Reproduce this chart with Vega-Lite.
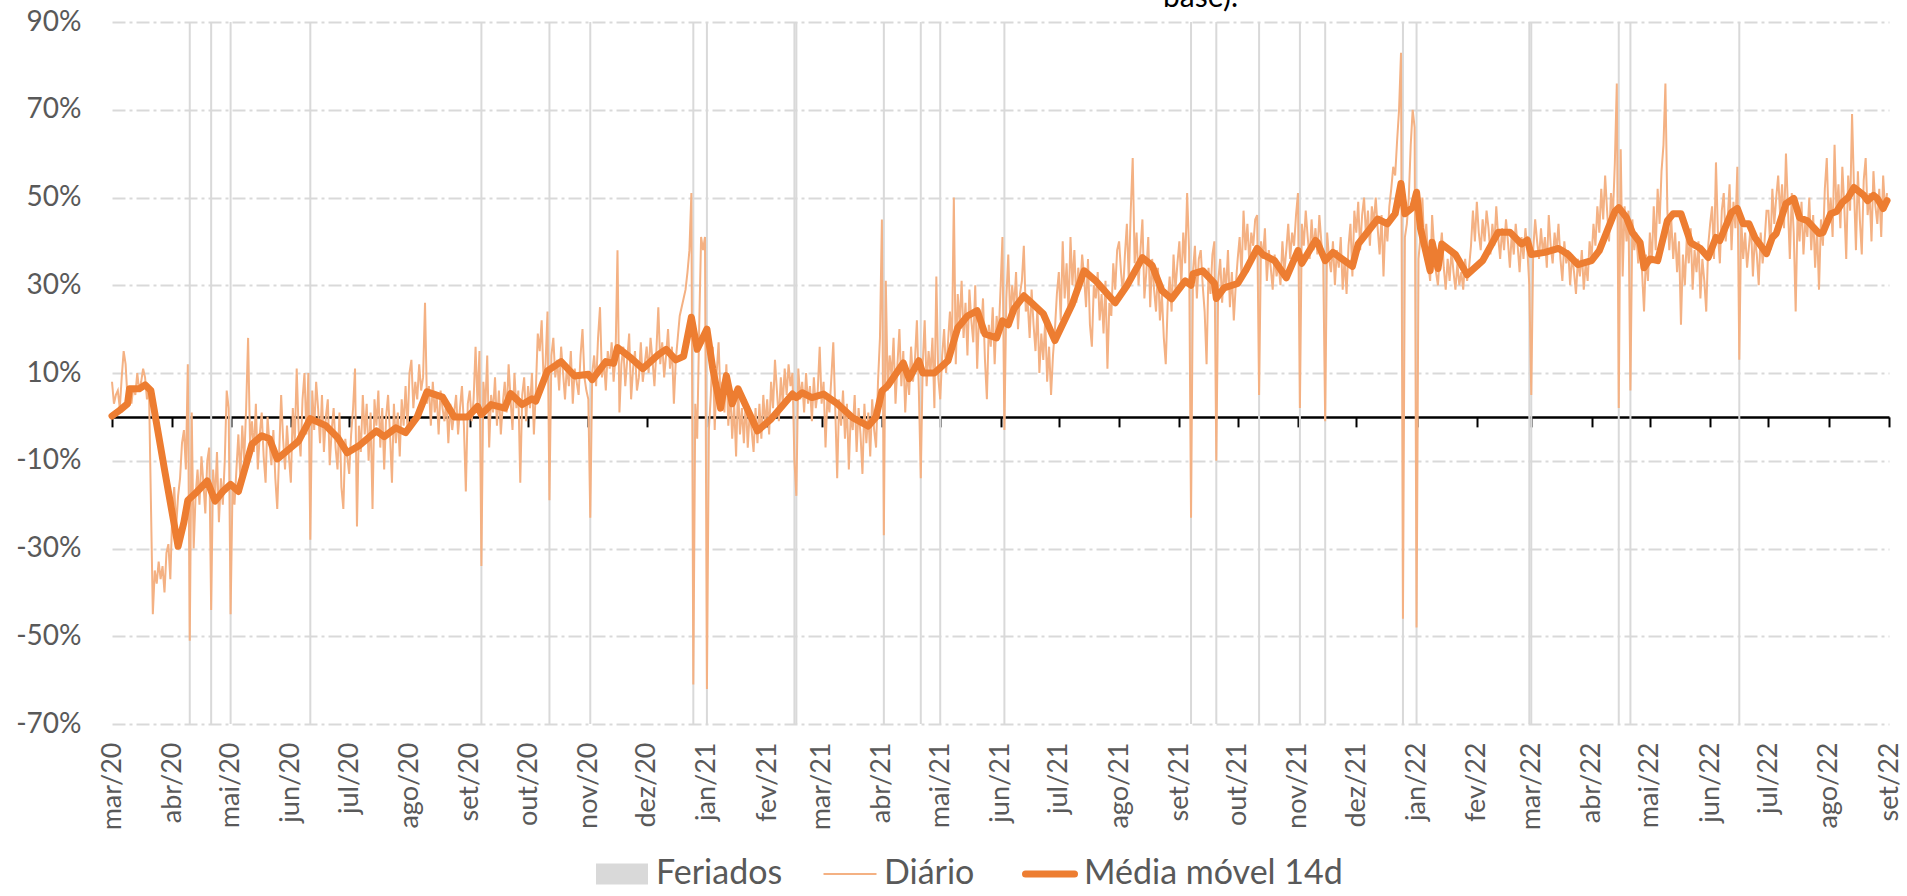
{
"$schema": "https://vega.github.io/schema/vega-lite/v6.json",
"width": 1777, "height": 702,
"autosize": {"type": "none"},
"padding": {"left": 112, "top": 22, "right": 18, "bottom": 172},
"background": "white",
"title": {"text": "base).", "font": "Lato", "fontSize": 30, "fontWeight": "normal", "color": "#000000", "anchor": "middle", "frame": "group", "dx": 200, "offset": -5, "baseline": "top"},
"config": {"view": {"stroke": null}, "font": "Lato"},
"datasets": {
"hol": [
{"d":"2020-04-10","s":"Feriados"},{"d":"2020-04-21","s":"Feriados"},{"d":"2020-05-01","s":"Feriados"},{"d":"2020-06-11","s":"Feriados"},{"d":"2020-09-07","s":"Feriados"},{"d":"2020-10-12","s":"Feriados"},{"d":"2020-11-02","s":"Feriados"},{"d":"2020-12-25","s":"Feriados"},{"d":"2021-01-01","s":"Feriados"},{"d":"2021-02-15","s":"Feriados"},{"d":"2021-02-16","s":"Feriados"},{"d":"2021-04-02","s":"Feriados"},{"d":"2021-04-21","s":"Feriados"},{"d":"2021-05-01","s":"Feriados"},{"d":"2021-06-03","s":"Feriados"},{"d":"2021-09-07","s":"Feriados"},{"d":"2021-09-20","s":"Feriados"},{"d":"2021-10-12","s":"Feriados"},{"d":"2021-11-02","s":"Feriados"},{"d":"2021-11-15","s":"Feriados"},{"d":"2021-12-25","s":"Feriados"},{"d":"2022-01-01","s":"Feriados"},{"d":"2022-02-28","s":"Feriados"},{"d":"2022-03-01","s":"Feriados"},{"d":"2022-04-15","s":"Feriados"},{"d":"2022-04-21","s":"Feriados"},{"d":"2022-06-16","s":"Feriados"}
],
"ma": [
{"d":"2020-03-01","m":0.2},{"d":"2020-03-05","m":1.5},{"d":"2020-03-09","m":3},{"d":"2020-03-10","m":6.4},{"d":"2020-03-15","m":6.4},{"d":"2020-03-18","m":7.3},{"d":"2020-03-21","m":6},{"d":"2020-03-28","m":-12},{"d":"2020-04-04","m":-29.5},{"d":"2020-04-07","m":-24},{"d":"2020-04-09","m":-19},{"d":"2020-04-13","m":-17.4},{"d":"2020-04-19","m":-14.6},{"d":"2020-04-23","m":-19.2},{"d":"2020-04-27","m":-17},{"d":"2020-05-01","m":-15.4},{"d":"2020-05-05","m":-17},{"d":"2020-05-12","m":-6.2},{"d":"2020-05-17","m":-4.3},{"d":"2020-05-21","m":-5},{"d":"2020-05-25","m":-9.6},{"d":"2020-06-01","m":-7},{"d":"2020-06-05","m":-5.5},{"d":"2020-06-11","m":-0.4},{"d":"2020-06-19","m":-2},{"d":"2020-06-25","m":-4.7},{"d":"2020-06-30","m":-8.2},{"d":"2020-07-06","m":-6.6},{"d":"2020-07-15","m":-3.2},{"d":"2020-07-19","m":-4.5},{"d":"2020-07-25","m":-2.5},{"d":"2020-07-30","m":-3.6},{"d":"2020-08-05","m":0},{"d":"2020-08-10","m":5.7},{"d":"2020-08-18","m":4.5},{"d":"2020-08-24","m":0},{"d":"2020-08-31","m":0},{"d":"2020-09-05","m":2.4},{"d":"2020-09-07","m":0.5},{"d":"2020-09-12","m":2.8},{"d":"2020-09-19","m":2},{"d":"2020-09-22","m":5.3},{"d":"2020-09-28","m":2.8},{"d":"2020-10-03","m":4.1},{"d":"2020-10-05","m":3.6},{"d":"2020-10-11","m":10.5},{"d":"2020-10-18","m":12.6},{"d":"2020-10-25","m":9.3},{"d":"2020-11-01","m":9.7},{"d":"2020-11-03","m":8.5},{"d":"2020-11-10","m":12.6},{"d":"2020-11-14","m":12.2},{"d":"2020-11-16","m":15.8},{"d":"2020-11-23","m":13.4},{"d":"2020-11-29","m":11},{"d":"2020-12-07","m":14.2},{"d":"2020-12-11","m":15.4},{"d":"2020-12-16","m":13},{"d":"2020-12-20","m":13.8},{"d":"2020-12-24","m":22.7},{"d":"2020-12-27","m":15.4},{"d":"2021-01-01","m":20},{"d":"2021-01-04","m":11},{"d":"2021-01-08","m":2},{"d":"2021-01-11","m":9.4},{"d":"2021-01-14","m":3},{"d":"2021-01-17","m":6.4},{"d":"2021-01-27","m":-3.2},{"d":"2021-02-03","m":-0.5},{"d":"2021-02-14","m":5.2},{"d":"2021-02-16","m":4.4},{"d":"2021-02-19","m":5.5},{"d":"2021-02-24","m":4.4},{"d":"2021-03-02","m":5.2},{"d":"2021-03-09","m":3},{"d":"2021-03-17","m":-0.2},{"d":"2021-03-25","m":-2.1},{"d":"2021-03-29","m":0},{"d":"2021-04-01","m":5.9},{"d":"2021-04-04","m":7.1},{"d":"2021-04-12","m":12.3},{"d":"2021-04-15","m":8.7},{"d":"2021-04-20","m":12.8},{"d":"2021-04-22","m":10},{"d":"2021-04-28","m":10},{"d":"2021-05-05","m":12.8},{"d":"2021-05-10","m":20.3},{"d":"2021-05-15","m":23},{"d":"2021-05-20","m":24.2},{"d":"2021-05-24","m":18.9},{"d":"2021-05-30","m":18},{"d":"2021-06-02","m":21.9},{"d":"2021-06-05","m":21},{"d":"2021-06-08","m":24.7},{"d":"2021-06-13","m":27.6},{"d":"2021-06-17","m":26},{"d":"2021-06-23","m":23.5},{"d":"2021-06-29","m":17.4},{"d":"2021-07-08","m":25.8},{"d":"2021-07-14","m":33.3},{"d":"2021-07-20","m":31},{"d":"2021-07-30","m":26},{"d":"2021-08-05","m":29.9},{"d":"2021-08-13","m":36.3},{"d":"2021-08-18","m":34.5},{"d":"2021-08-23","m":28.8},{"d":"2021-08-28","m":26.9},{"d":"2021-09-04","m":31},{"d":"2021-09-07","m":30},{"d":"2021-09-08","m":32.6},{"d":"2021-09-13","m":33.3},{"d":"2021-09-19","m":30.5},{"d":"2021-09-20","m":27},{"d":"2021-09-24","m":29.4},{"d":"2021-10-01","m":30.4},{"d":"2021-10-05","m":33.3},{"d":"2021-10-11","m":38.4},{"d":"2021-10-14","m":37},{"d":"2021-10-20","m":35.6},{"d":"2021-10-26","m":31.7},{"d":"2021-11-01","m":37.9},{"d":"2021-11-03","m":35},{"d":"2021-11-10","m":40.2},{"d":"2021-11-11","m":39.8},{"d":"2021-11-15","m":35.6},{"d":"2021-11-19","m":37.5},{"d":"2021-11-29","m":34.3},{"d":"2021-12-02","m":39.4},{"d":"2021-12-12","m":45.1},{"d":"2021-12-17","m":44},{"d":"2021-12-21","m":46.3},{"d":"2021-12-24","m":53.2},{"d":"2021-12-26","m":46.3},{"d":"2021-12-30","m":47.7},{"d":"2022-01-01","m":51.2},{"d":"2022-01-03","m":43},{"d":"2022-01-08","m":33.3},{"d":"2022-01-09","m":39.8},{"d":"2022-01-12","m":33.8},{"d":"2022-01-14","m":39.4},{"d":"2022-01-21","m":37},{"d":"2022-01-27","m":32.4},{"d":"2022-02-04","m":35.6},{"d":"2022-02-12","m":42.1},{"d":"2022-02-18","m":42.1},{"d":"2022-02-24","m":39.4},{"d":"2022-02-27","m":40.3},{"d":"2022-03-01","m":37},{"d":"2022-03-08","m":37.5},{"d":"2022-03-15","m":38.4},{"d":"2022-03-20","m":37},{"d":"2022-03-25","m":34.7},{"d":"2022-04-01","m":35.6},{"d":"2022-04-05","m":37.9},{"d":"2022-04-13","m":46.8},{"d":"2022-04-15","m":47.7},{"d":"2022-04-19","m":45.4},{"d":"2022-04-22","m":42},{"d":"2022-04-26","m":39.7},{"d":"2022-04-28","m":34},{"d":"2022-05-01","m":36},{"d":"2022-05-05","m":35.6},{"d":"2022-05-10","m":44.7},{"d":"2022-05-13","m":46.3},{"d":"2022-05-17","m":46.3},{"d":"2022-05-22","m":39.7},{"d":"2022-05-27","m":38.4},{"d":"2022-05-31","m":36.3},{"d":"2022-06-04","m":40.9},{"d":"2022-06-06","m":40.2},{"d":"2022-06-12","m":46.6},{"d":"2022-06-15","m":47.5},{"d":"2022-06-18","m":44},{"d":"2022-06-21","m":44},{"d":"2022-06-24","m":40.9},{"d":"2022-06-30","m":37.2},{"d":"2022-07-03","m":40.9},{"d":"2022-07-05","m":41.8},{"d":"2022-07-10","m":48.6},{"d":"2022-07-14","m":49.8},{"d":"2022-07-17","m":45.4},{"d":"2022-07-21","m":44.7},{"d":"2022-07-27","m":41.8},{"d":"2022-07-29","m":42},{"d":"2022-08-02","m":46.3},{"d":"2022-08-05","m":46.8},{"d":"2022-08-08","m":48.9},{"d":"2022-08-11","m":50},{"d":"2022-08-14","m":52.3},{"d":"2022-08-19","m":50.5},{"d":"2022-08-21","m":49.3},{"d":"2022-08-24","m":50.5},{"d":"2022-08-26","m":49.8},{"d":"2022-08-29","m":47.5},{"d":"2022-08-31","m":49.3}
],
"daily": [
{"d":"2020-03-01","v":8},{"d":"2020-03-02","v":3},{"d":"2020-03-03","v":5},{"d":"2020-03-04","v":6},{"d":"2020-03-05","v":2},{"d":"2020-03-06","v":9},{"d":"2020-03-07","v":15},{"d":"2020-03-08","v":12},{"d":"2020-03-09","v":4},{"d":"2020-03-10","v":6},{"d":"2020-03-11","v":3},{"d":"2020-03-12","v":7},{"d":"2020-03-13","v":5},{"d":"2020-03-14","v":10},{"d":"2020-03-15","v":6},{"d":"2020-03-16","v":8},{"d":"2020-03-17","v":11},{"d":"2020-03-18","v":9},{"d":"2020-03-19","v":4},{"d":"2020-03-20","v":7},{"d":"2020-03-21","v":-19},{"d":"2020-03-22","v":-45},{"d":"2020-03-23","v":-35},{"d":"2020-03-24","v":-38},{"d":"2020-03-25","v":-33},{"d":"2020-03-26","v":-37},{"d":"2020-03-27","v":-34},{"d":"2020-03-28","v":-40},{"d":"2020-03-29","v":-31},{"d":"2020-03-30","v":-29},{"d":"2020-03-31","v":-37},
{"d":"2020-04-01","v":-22},{"d":"2020-04-02","v":-16},{"d":"2020-04-03","v":-25},{"d":"2020-04-04","v":-18},{"d":"2020-04-05","v":-14},{"d":"2020-04-06","v":-6},{"d":"2020-04-07","v":-3},{"d":"2020-04-08","v":-12},{"d":"2020-04-09","v":12},{"d":"2020-04-10","v":-51},{"d":"2020-04-11","v":1},{"d":"2020-04-12","v":-30},{"d":"2020-04-13","v":-18},{"d":"2020-04-14","v":-12},{"d":"2020-04-15","v":-20},{"d":"2020-04-16","v":-9},{"d":"2020-04-17","v":-15},{"d":"2020-04-18","v":-22},{"d":"2020-04-19","v":-10},{"d":"2020-04-20","v":-7},{"d":"2020-04-21","v":-44},{"d":"2020-04-22","v":-12},{"d":"2020-04-23","v":-19},{"d":"2020-04-24","v":-8},{"d":"2020-04-25","v":-24},{"d":"2020-04-26","v":-14},{"d":"2020-04-27","v":-20},{"d":"2020-04-28","v":-10},{"d":"2020-04-29","v":6},{"d":"2020-04-30","v":2},
{"d":"2020-05-01","v":-45},{"d":"2020-05-02","v":-16},{"d":"2020-05-03","v":-20},{"d":"2020-05-04","v":-12},{"d":"2020-05-05","v":-4},{"d":"2020-05-06","v":-14},{"d":"2020-05-07","v":-2},{"d":"2020-05-08","v":-10},{"d":"2020-05-09","v":2},{"d":"2020-05-10","v":18},{"d":"2020-05-11","v":-6},{"d":"2020-05-12","v":-1},{"d":"2020-05-13","v":-8},{"d":"2020-05-14","v":3},{"d":"2020-05-15","v":-12},{"d":"2020-05-16","v":-4},{"d":"2020-05-17","v":1},{"d":"2020-05-18","v":-9},{"d":"2020-05-19","v":-15},{"d":"2020-05-20","v":0},{"d":"2020-05-21","v":-6},{"d":"2020-05-22","v":-11},{"d":"2020-05-23","v":-3},{"d":"2020-05-24","v":-14},{"d":"2020-05-25","v":-21},{"d":"2020-05-26","v":-8},{"d":"2020-05-27","v":5},{"d":"2020-05-28","v":-5},{"d":"2020-05-29","v":-12},{"d":"2020-05-30","v":-2},{"d":"2020-05-31","v":-9},
{"d":"2020-06-01","v":-15},{"d":"2020-06-02","v":2},{"d":"2020-06-03","v":-6},{"d":"2020-06-04","v":11},{"d":"2020-06-05","v":-3},{"d":"2020-06-06","v":-9},{"d":"2020-06-07","v":4},{"d":"2020-06-08","v":10},{"d":"2020-06-09","v":-4},{"d":"2020-06-10","v":10},{"d":"2020-06-11","v":-28},{"d":"2020-06-12","v":6},{"d":"2020-06-13","v":-3},{"d":"2020-06-14","v":8},{"d":"2020-06-15","v":2},{"d":"2020-06-16","v":-6},{"d":"2020-06-17","v":5},{"d":"2020-06-18","v":-8},{"d":"2020-06-19","v":0},{"d":"2020-06-20","v":4},{"d":"2020-06-21","v":-11},{"d":"2020-06-22","v":-3},{"d":"2020-06-23","v":2},{"d":"2020-06-24","v":-7},{"d":"2020-06-25","v":-12},{"d":"2020-06-26","v":1},{"d":"2020-06-27","v":-16},{"d":"2020-06-28","v":-21},{"d":"2020-06-29","v":-5},{"d":"2020-06-30","v":-9},
{"d":"2020-07-01","v":-13},{"d":"2020-07-02","v":-4},{"d":"2020-07-03","v":2},{"d":"2020-07-04","v":11},{"d":"2020-07-05","v":-25},{"d":"2020-07-06","v":-2},{"d":"2020-07-07","v":-8},{"d":"2020-07-08","v":5},{"d":"2020-07-09","v":-4},{"d":"2020-07-10","v":3},{"d":"2020-07-11","v":-10},{"d":"2020-07-12","v":1},{"d":"2020-07-13","v":-21},{"d":"2020-07-14","v":4},{"d":"2020-07-15","v":-2},{"d":"2020-07-16","v":6},{"d":"2020-07-17","v":-7},{"d":"2020-07-18","v":2},{"d":"2020-07-19","v":-12},{"d":"2020-07-20","v":0},{"d":"2020-07-21","v":5},{"d":"2020-07-22","v":-4},{"d":"2020-07-23","v":-15},{"d":"2020-07-24","v":3},{"d":"2020-07-25","v":-6},{"d":"2020-07-26","v":1},{"d":"2020-07-27","v":-9},{"d":"2020-07-28","v":4},{"d":"2020-07-29","v":-2},{"d":"2020-07-30","v":7},{"d":"2020-07-31","v":-3},
{"d":"2020-08-01","v":10},{"d":"2020-08-02","v":13},{"d":"2020-08-03","v":2},{"d":"2020-08-04","v":8},{"d":"2020-08-05","v":4},{"d":"2020-08-06","v":12},{"d":"2020-08-07","v":6},{"d":"2020-08-08","v":9},{"d":"2020-08-09","v":26},{"d":"2020-08-10","v":3},{"d":"2020-08-11","v":7},{"d":"2020-08-12","v":-2},{"d":"2020-08-13","v":8},{"d":"2020-08-14","v":1},{"d":"2020-08-15","v":5},{"d":"2020-08-16","v":-4},{"d":"2020-08-17","v":6},{"d":"2020-08-18","v":2},{"d":"2020-08-19","v":-1},{"d":"2020-08-20","v":4},{"d":"2020-08-21","v":-6},{"d":"2020-08-22","v":3},{"d":"2020-08-23","v":-3},{"d":"2020-08-24","v":1},{"d":"2020-08-25","v":5},{"d":"2020-08-26","v":-4},{"d":"2020-08-27","v":2},{"d":"2020-08-28","v":7},{"d":"2020-08-29","v":-2},{"d":"2020-08-30","v":-17},{"d":"2020-08-31","v":3},
{"d":"2020-09-01","v":6},{"d":"2020-09-02","v":-1},{"d":"2020-09-03","v":4},{"d":"2020-09-04","v":16},{"d":"2020-09-05","v":3},{"d":"2020-09-06","v":15},{"d":"2020-09-07","v":-34},{"d":"2020-09-08","v":8},{"d":"2020-09-09","v":2},{"d":"2020-09-10","v":14},{"d":"2020-09-11","v":-7},{"d":"2020-09-12","v":5},{"d":"2020-09-13","v":1},{"d":"2020-09-14","v":9},{"d":"2020-09-15","v":-2},{"d":"2020-09-16","v":6},{"d":"2020-09-17","v":-4},{"d":"2020-09-18","v":3},{"d":"2020-09-19","v":8},{"d":"2020-09-20","v":1},{"d":"2020-09-21","v":12},{"d":"2020-09-22","v":4},{"d":"2020-09-23","v":-3},{"d":"2020-09-24","v":10},{"d":"2020-09-25","v":2},{"d":"2020-09-26","v":6},{"d":"2020-09-27","v":-15},{"d":"2020-09-28","v":5},{"d":"2020-09-29","v":9},{"d":"2020-09-30","v":-1},
{"d":"2020-10-01","v":7},{"d":"2020-10-02","v":2},{"d":"2020-10-03","v":10},{"d":"2020-10-04","v":-4},{"d":"2020-10-05","v":6},{"d":"2020-10-06","v":19},{"d":"2020-10-07","v":15},{"d":"2020-10-08","v":22},{"d":"2020-10-09","v":8},{"d":"2020-10-10","v":12},{"d":"2020-10-11","v":24},{"d":"2020-10-12","v":-19},{"d":"2020-10-13","v":14},{"d":"2020-10-14","v":18},{"d":"2020-10-15","v":9},{"d":"2020-10-16","v":13},{"d":"2020-10-17","v":6},{"d":"2020-10-18","v":16},{"d":"2020-10-19","v":10},{"d":"2020-10-20","v":4},{"d":"2020-10-21","v":12},{"d":"2020-10-22","v":7},{"d":"2020-10-23","v":15},{"d":"2020-10-24","v":3},{"d":"2020-10-25","v":11},{"d":"2020-10-26","v":8},{"d":"2020-10-27","v":5},{"d":"2020-10-28","v":14},{"d":"2020-10-29","v":20},{"d":"2020-10-30","v":9},{"d":"2020-10-31","v":6},
{"d":"2020-11-01","v":4},{"d":"2020-11-02","v":-23},{"d":"2020-11-03","v":10},{"d":"2020-11-04","v":14},{"d":"2020-11-05","v":7},{"d":"2020-11-06","v":18},{"d":"2020-11-07","v":25},{"d":"2020-11-08","v":9},{"d":"2020-11-09","v":13},{"d":"2020-11-10","v":6},{"d":"2020-11-11","v":15},{"d":"2020-11-12","v":11},{"d":"2020-11-13","v":17},{"d":"2020-11-14","v":8},{"d":"2020-11-15","v":14},{"d":"2020-11-16","v":38},{"d":"2020-11-17","v":1},{"d":"2020-11-18","v":12},{"d":"2020-11-19","v":16},{"d":"2020-11-20","v":7},{"d":"2020-11-21","v":13},{"d":"2020-11-22","v":19},{"d":"2020-11-23","v":4},{"d":"2020-11-24","v":11},{"d":"2020-11-25","v":15},{"d":"2020-11-26","v":6},{"d":"2020-11-27","v":9},{"d":"2020-11-28","v":17},{"d":"2020-11-29","v":8},{"d":"2020-11-30","v":12},
{"d":"2020-12-01","v":16},{"d":"2020-12-02","v":10},{"d":"2020-12-03","v":18},{"d":"2020-12-04","v":13},{"d":"2020-12-05","v":7},{"d":"2020-12-06","v":15},{"d":"2020-12-07","v":25},{"d":"2020-12-08","v":12},{"d":"2020-12-09","v":17},{"d":"2020-12-10","v":9},{"d":"2020-12-11","v":14},{"d":"2020-12-12","v":20},{"d":"2020-12-13","v":11},{"d":"2020-12-14","v":16},{"d":"2020-12-15","v":3},{"d":"2020-12-16","v":13},{"d":"2020-12-17","v":18},{"d":"2020-12-18","v":23},{"d":"2020-12-19","v":25},{"d":"2020-12-20","v":27},{"d":"2020-12-21","v":29},{"d":"2020-12-22","v":33},{"d":"2020-12-23","v":38},{"d":"2020-12-24","v":51},{"d":"2020-12-25","v":-61},{"d":"2020-12-26","v":3},{"d":"2020-12-27","v":-5},{"d":"2020-12-28","v":20},{"d":"2020-12-29","v":41},{"d":"2020-12-30","v":38},{"d":"2020-12-31","v":41},
{"d":"2021-01-01","v":-62},{"d":"2021-01-02","v":-3},{"d":"2021-01-03","v":5},{"d":"2021-01-04","v":16},{"d":"2021-01-05","v":-3},{"d":"2021-01-06","v":10},{"d":"2021-01-07","v":17},{"d":"2021-01-08","v":4},{"d":"2021-01-09","v":8},{"d":"2021-01-10","v":1},{"d":"2021-01-11","v":12},{"d":"2021-01-12","v":-2},{"d":"2021-01-13","v":6},{"d":"2021-01-14","v":-5},{"d":"2021-01-15","v":3},{"d":"2021-01-16","v":-9},{"d":"2021-01-17","v":7},{"d":"2021-01-18","v":-4},{"d":"2021-01-19","v":2},{"d":"2021-01-20","v":-6},{"d":"2021-01-21","v":4},{"d":"2021-01-22","v":-7},{"d":"2021-01-23","v":1},{"d":"2021-01-24","v":-3},{"d":"2021-01-25","v":-8},{"d":"2021-01-26","v":2},{"d":"2021-01-27","v":-6},{"d":"2021-01-28","v":3},{"d":"2021-01-29","v":-5},{"d":"2021-01-30","v":5},{"d":"2021-01-31","v":-2},
{"d":"2021-02-01","v":4},{"d":"2021-02-02","v":-4},{"d":"2021-02-03","v":8},{"d":"2021-02-04","v":2},{"d":"2021-02-05","v":13},{"d":"2021-02-06","v":6},{"d":"2021-02-07","v":-1},{"d":"2021-02-08","v":9},{"d":"2021-02-09","v":3},{"d":"2021-02-10","v":11},{"d":"2021-02-11","v":5},{"d":"2021-02-12","v":12},{"d":"2021-02-13","v":7},{"d":"2021-02-14","v":10},{"d":"2021-02-15","v":-10},{"d":"2021-02-16","v":-18},{"d":"2021-02-17","v":11},{"d":"2021-02-18","v":4},{"d":"2021-02-19","v":8},{"d":"2021-02-20","v":1},{"d":"2021-02-21","v":10},{"d":"2021-02-22","v":3},{"d":"2021-02-23","v":7},{"d":"2021-02-24","v":-1},{"d":"2021-02-25","v":9},{"d":"2021-02-26","v":2},{"d":"2021-02-27","v":6},{"d":"2021-02-28","v":16},
{"d":"2021-03-01","v":3},{"d":"2021-03-02","v":8},{"d":"2021-03-03","v":-7},{"d":"2021-03-04","v":5},{"d":"2021-03-05","v":1},{"d":"2021-03-06","v":9},{"d":"2021-03-07","v":17},{"d":"2021-03-08","v":2},{"d":"2021-03-09","v":-14},{"d":"2021-03-10","v":4},{"d":"2021-03-11","v":-2},{"d":"2021-03-12","v":6},{"d":"2021-03-13","v":-5},{"d":"2021-03-14","v":3},{"d":"2021-03-15","v":-12},{"d":"2021-03-16","v":1},{"d":"2021-03-17","v":-3},{"d":"2021-03-18","v":5},{"d":"2021-03-19","v":-8},{"d":"2021-03-20","v":2},{"d":"2021-03-21","v":-4},{"d":"2021-03-22","v":-13},{"d":"2021-03-23","v":3},{"d":"2021-03-24","v":-6},{"d":"2021-03-25","v":1},{"d":"2021-03-26","v":-9},{"d":"2021-03-27","v":4},{"d":"2021-03-28","v":-3},{"d":"2021-03-29","v":-7},{"d":"2021-03-30","v":8},{"d":"2021-03-31","v":18},
{"d":"2021-04-01","v":45},{"d":"2021-04-02","v":-27},{"d":"2021-04-03","v":31},{"d":"2021-04-04","v":6},{"d":"2021-04-05","v":14},{"d":"2021-04-06","v":9},{"d":"2021-04-07","v":18},{"d":"2021-04-08","v":3},{"d":"2021-04-09","v":12},{"d":"2021-04-10","v":20},{"d":"2021-04-11","v":7},{"d":"2021-04-12","v":15},{"d":"2021-04-13","v":1},{"d":"2021-04-14","v":11},{"d":"2021-04-15","v":5},{"d":"2021-04-16","v":16},{"d":"2021-04-17","v":8},{"d":"2021-04-18","v":13},{"d":"2021-04-19","v":22},{"d":"2021-04-20","v":6},{"d":"2021-04-21","v":-14},{"d":"2021-04-22","v":12},{"d":"2021-04-23","v":22},{"d":"2021-04-24","v":7},{"d":"2021-04-25","v":15},{"d":"2021-04-26","v":10},{"d":"2021-04-27","v":18},{"d":"2021-04-28","v":2},{"d":"2021-04-29","v":32},{"d":"2021-04-30","v":9},
{"d":"2021-05-01","v":4},{"d":"2021-05-02","v":14},{"d":"2021-05-03","v":20},{"d":"2021-05-04","v":10},{"d":"2021-05-05","v":17},{"d":"2021-05-06","v":24},{"d":"2021-05-07","v":15},{"d":"2021-05-08","v":50},{"d":"2021-05-09","v":12},{"d":"2021-05-10","v":28},{"d":"2021-05-11","v":21},{"d":"2021-05-12","v":31},{"d":"2021-05-13","v":18},{"d":"2021-05-14","v":26},{"d":"2021-05-15","v":14},{"d":"2021-05-16","v":29},{"d":"2021-05-17","v":22},{"d":"2021-05-18","v":17},{"d":"2021-05-19","v":30},{"d":"2021-05-20","v":11},{"d":"2021-05-21","v":24},{"d":"2021-05-22","v":19},{"d":"2021-05-23","v":27},{"d":"2021-05-24","v":13},{"d":"2021-05-25","v":4},{"d":"2021-05-26","v":21},{"d":"2021-05-27","v":16},{"d":"2021-05-28","v":25},{"d":"2021-05-29","v":12},{"d":"2021-05-30","v":23},{"d":"2021-05-31","v":18},
{"d":"2021-06-01","v":29},{"d":"2021-06-02","v":41},{"d":"2021-06-03","v":-3},{"d":"2021-06-04","v":27},{"d":"2021-06-05","v":37},{"d":"2021-06-06","v":22},{"d":"2021-06-07","v":30},{"d":"2021-06-08","v":25},{"d":"2021-06-09","v":33},{"d":"2021-06-10","v":20},{"d":"2021-06-11","v":28},{"d":"2021-06-12","v":31},{"d":"2021-06-13","v":39},{"d":"2021-06-14","v":24},{"d":"2021-06-15","v":26},{"d":"2021-06-16","v":18},{"d":"2021-06-17","v":29},{"d":"2021-06-18","v":21},{"d":"2021-06-19","v":15},{"d":"2021-06-20","v":25},{"d":"2021-06-21","v":10},{"d":"2021-06-22","v":19},{"d":"2021-06-23","v":13},{"d":"2021-06-24","v":22},{"d":"2021-06-25","v":8},{"d":"2021-06-26","v":16},{"d":"2021-06-27","v":5},{"d":"2021-06-28","v":14},{"d":"2021-06-29","v":20},{"d":"2021-06-30","v":28},
{"d":"2021-07-01","v":33},{"d":"2021-07-02","v":22},{"d":"2021-07-03","v":40},{"d":"2021-07-04","v":27},{"d":"2021-07-05","v":35},{"d":"2021-07-06","v":24},{"d":"2021-07-07","v":41},{"d":"2021-07-08","v":30},{"d":"2021-07-09","v":38},{"d":"2021-07-10","v":26},{"d":"2021-07-11","v":34},{"d":"2021-07-12","v":29},{"d":"2021-07-13","v":37},{"d":"2021-07-14","v":32},{"d":"2021-07-15","v":25},{"d":"2021-07-16","v":36},{"d":"2021-07-17","v":21},{"d":"2021-07-18","v":16},{"d":"2021-07-19","v":30},{"d":"2021-07-20","v":27},{"d":"2021-07-21","v":33},{"d":"2021-07-22","v":22},{"d":"2021-07-23","v":28},{"d":"2021-07-24","v":19},{"d":"2021-07-25","v":31},{"d":"2021-07-26","v":11},{"d":"2021-07-27","v":26},{"d":"2021-07-28","v":23},{"d":"2021-07-29","v":35},{"d":"2021-07-30","v":29},{"d":"2021-07-31","v":38},
{"d":"2021-08-01","v":40},{"d":"2021-08-02","v":33},{"d":"2021-08-03","v":28},{"d":"2021-08-04","v":37},{"d":"2021-08-05","v":44},{"d":"2021-08-06","v":31},{"d":"2021-08-07","v":47},{"d":"2021-08-08","v":59},{"d":"2021-08-09","v":35},{"d":"2021-08-10","v":42},{"d":"2021-08-11","v":30},{"d":"2021-08-12","v":38},{"d":"2021-08-13","v":45},{"d":"2021-08-14","v":27},{"d":"2021-08-15","v":33},{"d":"2021-08-16","v":41},{"d":"2021-08-17","v":25},{"d":"2021-08-18","v":36},{"d":"2021-08-19","v":29},{"d":"2021-08-20","v":24},{"d":"2021-08-21","v":34},{"d":"2021-08-22","v":22},{"d":"2021-08-23","v":28},{"d":"2021-08-24","v":18},{"d":"2021-08-25","v":12},{"d":"2021-08-26","v":26},{"d":"2021-08-27","v":32},{"d":"2021-08-28","v":24},{"d":"2021-08-29","v":37},{"d":"2021-08-30","v":29},{"d":"2021-08-31","v":35},
{"d":"2021-09-01","v":40},{"d":"2021-09-02","v":30},{"d":"2021-09-03","v":42},{"d":"2021-09-04","v":35},{"d":"2021-09-05","v":51},{"d":"2021-09-06","v":38},{"d":"2021-09-07","v":-23},{"d":"2021-09-08","v":33},{"d":"2021-09-09","v":39},{"d":"2021-09-10","v":27},{"d":"2021-09-11","v":36},{"d":"2021-09-12","v":38},{"d":"2021-09-13","v":30},{"d":"2021-09-14","v":24},{"d":"2021-09-15","v":12},{"d":"2021-09-16","v":34},{"d":"2021-09-17","v":28},{"d":"2021-09-18","v":37},{"d":"2021-09-19","v":40},{"d":"2021-09-20","v":-10},{"d":"2021-09-21","v":31},{"d":"2021-09-22","v":36},{"d":"2021-09-23","v":26},{"d":"2021-09-24","v":34},{"d":"2021-09-25","v":29},{"d":"2021-09-26","v":38},{"d":"2021-09-27","v":25},{"d":"2021-09-28","v":33},{"d":"2021-09-29","v":22},{"d":"2021-09-30","v":30},
{"d":"2021-10-01","v":36},{"d":"2021-10-02","v":41},{"d":"2021-10-03","v":32},{"d":"2021-10-04","v":47},{"d":"2021-10-05","v":38},{"d":"2021-10-06","v":44},{"d":"2021-10-07","v":35},{"d":"2021-10-08","v":42},{"d":"2021-10-09","v":39},{"d":"2021-10-10","v":45},{"d":"2021-10-11","v":46},{"d":"2021-10-12","v":5},{"d":"2021-10-13","v":40},{"d":"2021-10-14","v":36},{"d":"2021-10-15","v":43},{"d":"2021-10-16","v":31},{"d":"2021-10-17","v":38},{"d":"2021-10-18","v":34},{"d":"2021-10-19","v":29},{"d":"2021-10-20","v":37},{"d":"2021-10-21","v":32},{"d":"2021-10-22","v":35},{"d":"2021-10-23","v":30},{"d":"2021-10-24","v":40},{"d":"2021-10-25","v":33},{"d":"2021-10-26","v":38},{"d":"2021-10-27","v":44},{"d":"2021-10-28","v":36},{"d":"2021-10-29","v":42},{"d":"2021-10-30","v":39},{"d":"2021-10-31","v":46},
{"d":"2021-11-01","v":51},{"d":"2021-11-02","v":2},{"d":"2021-11-03","v":44},{"d":"2021-11-04","v":39},{"d":"2021-11-05","v":47},{"d":"2021-11-06","v":41},{"d":"2021-11-07","v":36},{"d":"2021-11-08","v":45},{"d":"2021-11-09","v":38},{"d":"2021-11-10","v":43},{"d":"2021-11-11","v":37},{"d":"2021-11-12","v":46},{"d":"2021-11-13","v":40},{"d":"2021-11-14","v":35},{"d":"2021-11-15","v":-1},{"d":"2021-11-16","v":42},{"d":"2021-11-17","v":36},{"d":"2021-11-18","v":33},{"d":"2021-11-19","v":40},{"d":"2021-11-20","v":30},{"d":"2021-11-21","v":38},{"d":"2021-11-22","v":34},{"d":"2021-11-23","v":41},{"d":"2021-11-24","v":29},{"d":"2021-11-25","v":36},{"d":"2021-11-26","v":28},{"d":"2021-11-27","v":39},{"d":"2021-11-28","v":44},{"d":"2021-11-29","v":32},{"d":"2021-11-30","v":47},
{"d":"2021-12-01","v":42},{"d":"2021-12-02","v":49},{"d":"2021-12-03","v":38},{"d":"2021-12-04","v":46},{"d":"2021-12-05","v":50},{"d":"2021-12-06","v":41},{"d":"2021-12-07","v":47},{"d":"2021-12-08","v":39},{"d":"2021-12-09","v":48},{"d":"2021-12-10","v":44},{"d":"2021-12-11","v":50},{"d":"2021-12-12","v":43},{"d":"2021-12-13","v":37},{"d":"2021-12-14","v":46},{"d":"2021-12-15","v":32},{"d":"2021-12-16","v":45},{"d":"2021-12-17","v":40},{"d":"2021-12-18","v":48},{"d":"2021-12-19","v":52},{"d":"2021-12-20","v":57},{"d":"2021-12-21","v":55},{"d":"2021-12-22","v":63},{"d":"2021-12-23","v":70},{"d":"2021-12-24","v":83},{"d":"2021-12-25","v":-46},{"d":"2021-12-26","v":41},{"d":"2021-12-27","v":44},{"d":"2021-12-28","v":50},{"d":"2021-12-29","v":62},{"d":"2021-12-30","v":70},{"d":"2021-12-31","v":66},
{"d":"2022-01-01","v":-48},{"d":"2022-01-02","v":36},{"d":"2022-01-03","v":41},{"d":"2022-01-04","v":50},{"d":"2022-01-05","v":38},{"d":"2022-01-06","v":44},{"d":"2022-01-07","v":35},{"d":"2022-01-08","v":31},{"d":"2022-01-09","v":46},{"d":"2022-01-10","v":39},{"d":"2022-01-11","v":33},{"d":"2022-01-12","v":30},{"d":"2022-01-13","v":37},{"d":"2022-01-14","v":42},{"d":"2022-01-15","v":34},{"d":"2022-01-16","v":29},{"d":"2022-01-17","v":36},{"d":"2022-01-18","v":31},{"d":"2022-01-19","v":38},{"d":"2022-01-20","v":33},{"d":"2022-01-21","v":29},{"d":"2022-01-22","v":35},{"d":"2022-01-23","v":30},{"d":"2022-01-24","v":33},{"d":"2022-01-25","v":29},{"d":"2022-01-26","v":36},{"d":"2022-01-27","v":31},{"d":"2022-01-28","v":34},{"d":"2022-01-29","v":39},{"d":"2022-01-30","v":47},{"d":"2022-01-31","v":40},
{"d":"2022-02-01","v":49},{"d":"2022-02-02","v":42},{"d":"2022-02-03","v":38},{"d":"2022-02-04","v":45},{"d":"2022-02-05","v":40},{"d":"2022-02-06","v":47},{"d":"2022-02-07","v":43},{"d":"2022-02-08","v":37},{"d":"2022-02-09","v":44},{"d":"2022-02-10","v":39},{"d":"2022-02-11","v":48},{"d":"2022-02-12","v":41},{"d":"2022-02-13","v":36},{"d":"2022-02-14","v":43},{"d":"2022-02-15","v":38},{"d":"2022-02-16","v":45},{"d":"2022-02-17","v":40},{"d":"2022-02-18","v":34},{"d":"2022-02-19","v":42},{"d":"2022-02-20","v":37},{"d":"2022-02-21","v":44},{"d":"2022-02-22","v":39},{"d":"2022-02-23","v":33},{"d":"2022-02-24","v":41},{"d":"2022-02-25","v":36},{"d":"2022-02-26","v":43},{"d":"2022-02-27","v":38},{"d":"2022-02-28","v":30},
{"d":"2022-03-01","v":5},{"d":"2022-03-02","v":38},{"d":"2022-03-03","v":45},{"d":"2022-03-04","v":40},{"d":"2022-03-05","v":36},{"d":"2022-03-06","v":43},{"d":"2022-03-07","v":37},{"d":"2022-03-08","v":41},{"d":"2022-03-09","v":34},{"d":"2022-03-10","v":46},{"d":"2022-03-11","v":39},{"d":"2022-03-12","v":35},{"d":"2022-03-13","v":42},{"d":"2022-03-14","v":38},{"d":"2022-03-15","v":44},{"d":"2022-03-16","v":36},{"d":"2022-03-17","v":31},{"d":"2022-03-18","v":40},{"d":"2022-03-19","v":35},{"d":"2022-03-20","v":38},{"d":"2022-03-21","v":30},{"d":"2022-03-22","v":37},{"d":"2022-03-23","v":33},{"d":"2022-03-24","v":28},{"d":"2022-03-25","v":36},{"d":"2022-03-26","v":32},{"d":"2022-03-27","v":38},{"d":"2022-03-28","v":29},{"d":"2022-03-29","v":35},{"d":"2022-03-30","v":31},{"d":"2022-03-31","v":40},
{"d":"2022-04-01","v":36},{"d":"2022-04-02","v":44},{"d":"2022-04-03","v":39},{"d":"2022-04-04","v":48},{"d":"2022-04-05","v":42},{"d":"2022-04-06","v":52},{"d":"2022-04-07","v":45},{"d":"2022-04-08","v":55},{"d":"2022-04-09","v":47},{"d":"2022-04-10","v":40},{"d":"2022-04-11","v":51},{"d":"2022-04-12","v":46},{"d":"2022-04-13","v":58},{"d":"2022-04-14","v":76},{"d":"2022-04-15","v":2},{"d":"2022-04-16","v":61},{"d":"2022-04-17","v":32},{"d":"2022-04-18","v":48},{"d":"2022-04-19","v":40},{"d":"2022-04-20","v":47},{"d":"2022-04-21","v":6},{"d":"2022-04-22","v":45},{"d":"2022-04-23","v":38},{"d":"2022-04-24","v":42},{"d":"2022-04-25","v":35},{"d":"2022-04-26","v":40},{"d":"2022-04-27","v":33},{"d":"2022-04-28","v":24},{"d":"2022-04-29","v":37},{"d":"2022-04-30","v":31},
{"d":"2022-05-01","v":42},{"d":"2022-05-02","v":35},{"d":"2022-05-03","v":48},{"d":"2022-05-04","v":38},{"d":"2022-05-05","v":52},{"d":"2022-05-06","v":44},{"d":"2022-05-07","v":56},{"d":"2022-05-08","v":62},{"d":"2022-05-09","v":76},{"d":"2022-05-10","v":47},{"d":"2022-05-11","v":38},{"d":"2022-05-12","v":45},{"d":"2022-05-13","v":36},{"d":"2022-05-14","v":42},{"d":"2022-05-15","v":33},{"d":"2022-05-16","v":40},{"d":"2022-05-17","v":21},{"d":"2022-05-18","v":37},{"d":"2022-05-19","v":30},{"d":"2022-05-20","v":41},{"d":"2022-05-21","v":35},{"d":"2022-05-22","v":43},{"d":"2022-05-23","v":29},{"d":"2022-05-24","v":38},{"d":"2022-05-25","v":33},{"d":"2022-05-26","v":40},{"d":"2022-05-27","v":27},{"d":"2022-05-28","v":36},{"d":"2022-05-29","v":31},{"d":"2022-05-30","v":24},{"d":"2022-05-31","v":39},
{"d":"2022-06-01","v":44},{"d":"2022-06-02","v":48},{"d":"2022-06-03","v":36},{"d":"2022-06-04","v":58},{"d":"2022-06-05","v":42},{"d":"2022-06-06","v":35},{"d":"2022-06-07","v":47},{"d":"2022-06-08","v":51},{"d":"2022-06-09","v":40},{"d":"2022-06-10","v":45},{"d":"2022-06-11","v":53},{"d":"2022-06-12","v":38},{"d":"2022-06-13","v":49},{"d":"2022-06-14","v":43},{"d":"2022-06-15","v":57},{"d":"2022-06-16","v":13},{"d":"2022-06-17","v":45},{"d":"2022-06-18","v":36},{"d":"2022-06-19","v":42},{"d":"2022-06-20","v":34},{"d":"2022-06-21","v":39},{"d":"2022-06-22","v":44},{"d":"2022-06-23","v":32},{"d":"2022-06-24","v":41},{"d":"2022-06-25","v":37},{"d":"2022-06-26","v":30},{"d":"2022-06-27","v":42},{"d":"2022-06-28","v":35},{"d":"2022-06-29","v":40},{"d":"2022-06-30","v":47},
{"d":"2022-07-01","v":47},{"d":"2022-07-02","v":38},{"d":"2022-07-03","v":52},{"d":"2022-07-04","v":44},{"d":"2022-07-05","v":50},{"d":"2022-07-06","v":55},{"d":"2022-07-07","v":46},{"d":"2022-07-08","v":53},{"d":"2022-07-09","v":43},{"d":"2022-07-10","v":60},{"d":"2022-07-11","v":48},{"d":"2022-07-12","v":36},{"d":"2022-07-13","v":51},{"d":"2022-07-14","v":42},{"d":"2022-07-15","v":24},{"d":"2022-07-16","v":47},{"d":"2022-07-17","v":40},{"d":"2022-07-18","v":49},{"d":"2022-07-19","v":37},{"d":"2022-07-20","v":45},{"d":"2022-07-21","v":41},{"d":"2022-07-22","v":50},{"d":"2022-07-23","v":38},{"d":"2022-07-24","v":46},{"d":"2022-07-25","v":34},{"d":"2022-07-26","v":43},{"d":"2022-07-27","v":29},{"d":"2022-07-28","v":45},{"d":"2022-07-29","v":39},{"d":"2022-07-30","v":52},{"d":"2022-07-31","v":59},
{"d":"2022-08-01","v":44},{"d":"2022-08-02","v":50},{"d":"2022-08-03","v":41},{"d":"2022-08-04","v":62},{"d":"2022-08-05","v":46},{"d":"2022-08-06","v":53},{"d":"2022-08-07","v":43},{"d":"2022-08-08","v":57},{"d":"2022-08-09","v":48},{"d":"2022-08-10","v":36},{"d":"2022-08-11","v":55},{"d":"2022-08-12","v":47},{"d":"2022-08-13","v":69},{"d":"2022-08-14","v":52},{"d":"2022-08-15","v":38},{"d":"2022-08-16","v":56},{"d":"2022-08-17","v":45},{"d":"2022-08-18","v":37},{"d":"2022-08-19","v":54},{"d":"2022-08-20","v":59},{"d":"2022-08-21","v":46},{"d":"2022-08-22","v":51},{"d":"2022-08-23","v":40},{"d":"2022-08-24","v":56},{"d":"2022-08-25","v":48},{"d":"2022-08-26","v":44},{"d":"2022-08-27","v":52},{"d":"2022-08-28","v":41},{"d":"2022-08-29","v":55},{"d":"2022-08-30","v":47},{"d":"2022-08-31","v":51}
]
},
"layer": [
{"data": {"name": "hol"},
 "mark": {"type": "rule", "strokeWidth": 2},
 "encoding": {
  "x": {"field": "d", "type": "temporal",
   "scale": {"type": "utc", "domain": [{"year": 2020, "month": 3, "date": 1, "utc": true}, {"year": 2022, "month": 9, "date": 1, "utc": true}]},
   "axis": {"orient": "bottom", "title": null, "tickCount": {"interval": "month", "step": 1},
    "labelExpr": "['jan','fev','mar','abr','mai','jun','jul','ago','set','out','nov','dez'][utcmonth(datum.value)] + '/' + utcFormat(datum.value, '%y')",
    "labelAngle": -90, "labelFont": "Lato", "labelFontSize": 27, "labelColor": "#595959", "labelPadding": 18,
    "domain": false, "ticks": false, "tickSize": 0, "grid": false, "labelOverlap": false, "labelBound": false, "labelFlush": false}},
  "color": {"field": "s", "type": "nominal",
   "scale": {"domain": ["Feriados", "Diário", "Média móvel 14d"], "range": ["#d9d9d9", "#f4b183", "#ed7d31"]},
   "legend": {"title": null, "orient": "none", "legendX": 484, "legendY": 835, "direction": "horizontal",
    "symbolType": "stroke", "symbolSize": 2704, "symbolOffset": 9, "labelFont": "Lato", "labelFontSize": 34, "labelColor": "#595959",
    "labelOffset": 17, "columnPadding": 36, "labelLimit": 0,
    "encode": {"symbols": {"update": {
      "shape": {"signal": "datum.value === 'Feriados' ? 'M-1,-0.4H1V0.4H-1Z' : 'stroke'"},
      "size": {"signal": "datum.value === 'Feriados' ? 2704 : (datum.value === 'Diário' ? 2809 : 2401)"},
      "fill": {"signal": "datum.value === 'Feriados' ? '#d9d9d9' : 'transparent'"},
      "strokeWidth": {"signal": "datum.value === 'Feriados' ? 0 : (datum.value === 'Diário' ? 2 : 7)"},
      "strokeCap": {"signal": "datum.value === 'Média móvel 14d' ? 'round' : 'butt'"}}}}}}
 }},
{"data": {"name": "daily"},
 "mark": {"type": "line", "strokeWidth": 2},
 "encoding": {
  "x": {"field": "d", "type": "temporal", "scale": {"type": "utc"}, "axis": null},
  "y": {"field": "v", "type": "quantitative", "scale": {"domain": [-70, 90], "nice": false, "zero": false},
   "axis": {"title": null, "values": [-70, -50, -30, -10, 10, 30, 50, 70, 90], "labelExpr": "datum.value + '%'",
    "grid": true, "gridColor": "#d9d9d9", "gridWidth": 2, "gridDash": [13, 4, 3, 4],
    "domain": false, "ticks": false, "tickSize": 0, "labelPadding": 31,
    "labelFont": "Lato", "labelFontSize": 28, "labelColor": "#595959"}},
  "color": {"datum": "Diário", "type": "nominal"}
 }},
{"data": {"name": "ma"},
 "mark": {"type": "line", "strokeWidth": 7, "strokeCap": "round", "strokeJoin": "round"},
 "encoding": {
  "x": {"field": "d", "type": "temporal", "scale": {"type": "utc"},
   "axis": {"orient": "bottom", "title": null, "offset": -307.125, "tickCount": {"interval": "month", "step": 1},
    "labels": false, "domain": true, "domainColor": "#000000", "domainWidth": 2.5,
    "ticks": true, "tickColor": "#000000", "tickWidth": 2, "tickSize": 10, "grid": false}},
  "y": {"field": "m", "type": "quantitative", "scale": {"domain": [-70, 90], "nice": false, "zero": false},
   "axis": {"title": null, "values": [-70, -50, -30, -10, 10, 30, 50, 70, 90], "labelExpr": "datum.value + '%'",
    "grid": true, "gridColor": "#d9d9d9", "gridWidth": 2, "gridDash": [13, 4, 3, 4],
    "domain": false, "ticks": false, "tickSize": 0, "labelPadding": 31,
    "labelFont": "Lato", "labelFontSize": 28, "labelColor": "#595959"}},
  "color": {"datum": "Média móvel 14d", "type": "nominal"}
 }}
],
"resolve": {"axis": {"x": "independent"}}
}
